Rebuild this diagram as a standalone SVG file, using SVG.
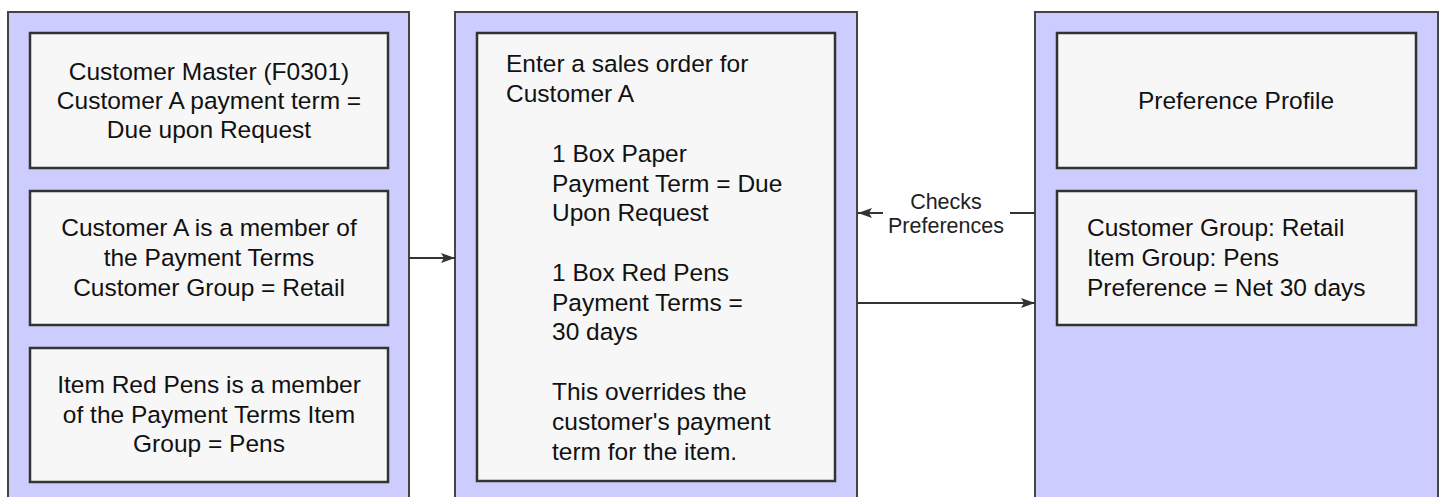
<svg xmlns="http://www.w3.org/2000/svg" width="1440" height="497" viewBox="0 0 1440 497">
<defs>
<marker id="arr" viewBox="0 0 14 10" refX="14" refY="5" markerWidth="14" markerHeight="10" markerUnits="userSpaceOnUse" orient="auto">
<path d="M0,0 L14,5 L0,10 L3,5 Z" fill="#333"/>
</marker>
<style>
.cont{fill:#CCCCFF;stroke:#444;stroke-width:2}
.box{fill:#F7F7F7;stroke:#333;stroke-width:2.5}
.t{font-family:"Liberation Sans",Arial,sans-serif;font-size:24.5px;fill:#111}
.c{text-anchor:middle}
.lbl{font-family:"Liberation Sans",Arial,sans-serif;font-size:21.5px;fill:#222;text-anchor:middle}
.con{fill:none;stroke:#333;stroke-width:2}
</style>
</defs>
<rect width="1440" height="497" fill="#fff"/>
<g id="col-left">
<rect class="cont" x="8" y="12" width="401" height="500"/>
</g>
<g id="col-middle">
<rect class="cont" x="455" y="12" width="402" height="500"/>
</g>
<g id="col-right">
<rect class="cont" x="1035" y="12" width="403" height="500"/>
</g>
<g id="customer-master">
<rect class="box" x="30" y="33" width="358" height="135"/>
<text class="t c" x="209" y="80">Customer Master (F0301)</text>
<text class="t c" x="209" y="109">Customer A payment term =</text>
<text class="t c" x="209" y="138">Due upon Request</text>
</g>
<g id="customer-group">
<rect class="box" x="30" y="191" width="358" height="134"/>
<text class="t c" x="209" y="236">Customer A is a member of</text>
<text class="t c" x="209" y="266">the Payment Terms</text>
<text class="t c" x="209" y="296">Customer Group = Retail</text>
</g>
<g id="item-group">
<rect class="box" x="30" y="348" width="358" height="134"/>
<text class="t c" x="209" y="393">Item Red Pens is a member</text>
<text class="t c" x="209" y="423">of the Payment Terms Item</text>
<text class="t c" x="209" y="452">Group = Pens</text>
</g>
<g id="sales-order">
<rect class="box" x="477" y="33" width="358" height="448"/>
<text class="t" x="506" y="72">Enter a sales order for</text>
<text class="t" x="506" y="102">Customer A</text>
<text class="t" x="552" y="162">1 Box Paper</text>
<text class="t" x="552" y="192">Payment Term = Due</text>
<text class="t" x="552" y="221">Upon Request</text>
<text class="t" x="552" y="281">1 Box Red Pens</text>
<text class="t" x="552" y="311">Payment Terms =</text>
<text class="t" x="552" y="340">30 days</text>
<text class="t" x="552" y="400">This overrides the</text>
<text class="t" x="552" y="430">customer's payment</text>
<text class="t" x="552" y="460">term for the item.</text>
</g>
<g id="preference-profile">
<rect class="box" x="1057" y="33" width="359" height="135"/>
<text class="t c" x="1236" y="109">Preference Profile</text>
</g>
<g id="preference-detail">
<rect class="box" x="1057" y="191" width="359" height="134"/>
<text class="t" x="1087" y="236">Customer Group: Retail</text>
<text class="t" x="1087" y="266">Item Group: Pens</text>
<text class="t" x="1087" y="296">Preference = Net 30 days</text>
</g>
<g id="connectors">
<line class="con" x1="409" y1="258" x2="455" y2="258" marker-end="url(#arr)"/>
<path class="con" d="M1035,213 H1010 M883,213 H858" marker-end="url(#arr)"/>
<text class="lbl" x="946" y="209">Checks</text>
<text class="lbl" x="946" y="233">Preferences</text>
<line class="con" x1="857" y1="303" x2="1035" y2="303" marker-end="url(#arr)"/>
</g>
</svg>
